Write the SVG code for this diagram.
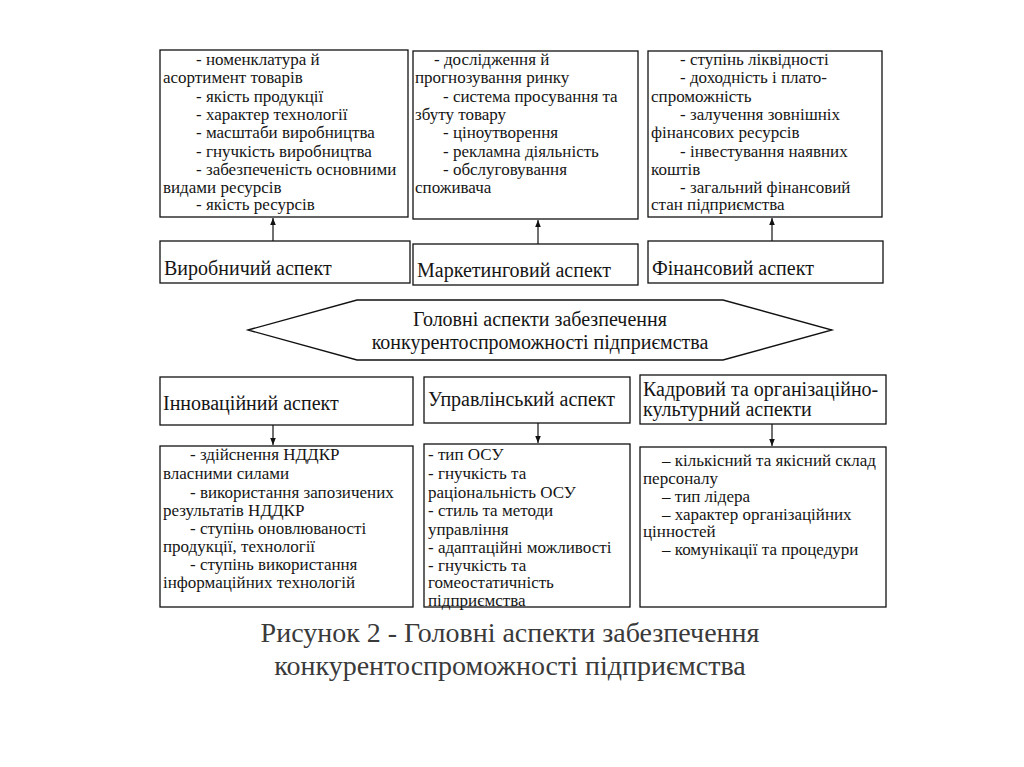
<svg xmlns="http://www.w3.org/2000/svg" width="1024" height="767" viewBox="0 0 1024 767">
<style>
.box{fill:#fff;stroke:#111;stroke-width:1.3}
.t{font-family:'Liberation Serif','DejaVu Serif','Times New Roman',serif;font-size:17px;fill:#151515}
.h{font-family:'Liberation Serif','DejaVu Serif','Times New Roman',serif;font-size:20px;fill:#151515}
.cap{font-family:'Liberation Serif','DejaVu Serif','Times New Roman',serif;font-size:28px;fill:#3a3a3a;text-anchor:middle}
.con{stroke:#111;stroke-width:1.2;fill:none}
</style>
<defs>
<marker id="ah" viewBox="0 0 10 10" refX="10" refY="5" markerWidth="7" markerHeight="9" markerUnits="userSpaceOnUse" orient="auto">
<path d="M0,1 L10,5 L0,9 Z" fill="#111"/>
</marker>
</defs>
<rect width="1024" height="767" fill="#fff"/>

<g id="prod-list">
<rect class="box" x="160" y="50" width="248" height="167"/>
<text class="t"><tspan x="196" y="65">- номенклатура й</tspan><tspan x="163" y="83">асортимент товарів</tspan><tspan x="196" y="102">- якість продукції</tspan><tspan x="196" y="120">- характер технології</tspan><tspan x="196" y="138">- масштаби виробництва</tspan><tspan x="196" y="157">- гнучкість виробництва</tspan><tspan x="196" y="175">- забезпеченість основними</tspan><tspan x="163" y="193">видами ресурсів</tspan><tspan x="196" y="210">- якість ресурсів</tspan></text>
</g>
<g id="mark-list">
<rect class="box" x="413" y="51" width="225" height="168"/>
<text class="t"><tspan x="434" y="65">- дослідження й</tspan><tspan x="415" y="83">прогнозування ринку</tspan><tspan x="443" y="102">- система просування та</tspan><tspan x="415" y="120">збуту товару</tspan><tspan x="443" y="138">- ціноутворення</tspan><tspan x="443" y="157">- рекламна діяльність</tspan><tspan x="443" y="175">- обслуговування</tspan><tspan x="415" y="193">споживача</tspan></text>
</g>
<g id="fin-list">
<rect class="box" x="648" y="51" width="234" height="166"/>
<text class="t"><tspan x="680" y="65">- ступінь ліквідності</tspan><tspan x="680" y="83">- доходність і плато-</tspan><tspan x="651" y="102">спроможність</tspan><tspan x="680" y="120">- залучення зовнішніх</tspan><tspan x="651" y="138">фінансових ресурсів</tspan><tspan x="680" y="157">- інвестування наявних</tspan><tspan x="651" y="175">коштів</tspan><tspan x="680" y="193">- загальний фінансовий</tspan><tspan x="651" y="210">стан підприємства</tspan></text>
</g>

<g id="prod">
<rect class="box" x="160" y="241" width="250" height="42"/>
<text class="h" x="164" y="275">Виробничий аспект</text>
</g>
<g id="mark">
<rect class="box" x="413" y="244" width="225" height="41"/>
<text class="h" x="417" y="277">Маркетинговий аспект</text>
</g>
<g id="fin">
<rect class="box" x="648" y="241" width="235" height="42"/>
<text class="h" x="652" y="275">Фінансовий аспект</text>
</g>

<g id="main">
<polygon class="box" points="248,330 357,300 723,300 832,330 723,360 357,360"/>
<text class="h" x="540" y="326" text-anchor="middle">Головні аспекти забезпечення</text>
<text class="h" x="540" y="349" text-anchor="middle">конкурентоспроможності підприємства</text>
</g>

<g id="innov">
<rect class="box" x="160" y="377" width="253" height="48"/>
<text class="h" x="163" y="410">Інноваційний аспект</text>
</g>
<g id="manag">
<rect class="box" x="424" y="377" width="206" height="46"/>
<text class="h" x="428" y="406">Управлінський аспект</text>
</g>
<g id="staff">
<rect class="box" x="640" y="375" width="246" height="49"/>
<text class="h"><tspan x="643" y="396">Кадровий та організаційно-</tspan><tspan x="643" y="416">культурний  аспекти</tspan></text>
</g>

<g id="innov-list">
<rect class="box" x="160" y="446" width="253" height="161"/>
<text class="t"><tspan x="190" y="460">- здійснення НДДКР</tspan><tspan x="163" y="479">власними силами</tspan><tspan x="190" y="498">- використання запозичених</tspan><tspan x="163" y="516">результатів НДДКР</tspan><tspan x="190" y="534">- ступінь оновлюваності</tspan><tspan x="163" y="552">продукції, технології</tspan><tspan x="190" y="570">- ступінь використання</tspan><tspan x="163" y="588">інформаційних технологій</tspan></text>
</g>
<g id="manag-list">
<rect class="box" x="424" y="444" width="206" height="163"/>
<text class="t"><tspan x="428" y="460">- тип ОСУ</tspan><tspan x="428" y="479">- гнучкість та</tspan><tspan x="428" y="498">раціональність ОСУ</tspan><tspan x="428" y="516">- стиль та методи</tspan><tspan x="428" y="535">управління</tspan><tspan x="428" y="553">- адаптаційні можливості</tspan><tspan x="428" y="571">- гнучкість та</tspan><tspan x="428" y="588">гомеостатичність</tspan><tspan x="428" y="606">підприємства</tspan></text>
</g>
<g id="staff-list">
<rect class="box" x="640" y="447" width="246" height="160"/>
<text class="t"><tspan x="662" y="466">– кількісний  та якісний склад</tspan><tspan x="643" y="484">персоналу</tspan><tspan x="662" y="502">– тип лідера</tspan><tspan x="662" y="520">– характер організаційних</tspan><tspan x="643" y="537">цінностей</tspan><tspan x="662" y="555">– комунікації та процедури</tspan></text>
</g>

<g id="connectors">
<line class="con" x1="273" y1="241" x2="273" y2="218" marker-end="url(#ah)"/>
<line class="con" x1="538" y1="244" x2="538" y2="220" marker-end="url(#ah)"/>
<line class="con" x1="772" y1="241" x2="772" y2="218" marker-end="url(#ah)"/>
<line class="con" x1="273" y1="425" x2="273" y2="445" marker-end="url(#ah)"/>
<line class="con" x1="538" y1="423" x2="538" y2="443" marker-end="url(#ah)"/>
<line class="con" x1="772" y1="424" x2="772" y2="446" marker-end="url(#ah)"/>
</g>

<g id="caption">
<text class="cap" x="510" y="642">Рисунок 2 - Головні аспекти забезпечення</text>
<text class="cap" x="510" y="675">конкурентоспроможності підприємства</text>
</g>
</svg>
